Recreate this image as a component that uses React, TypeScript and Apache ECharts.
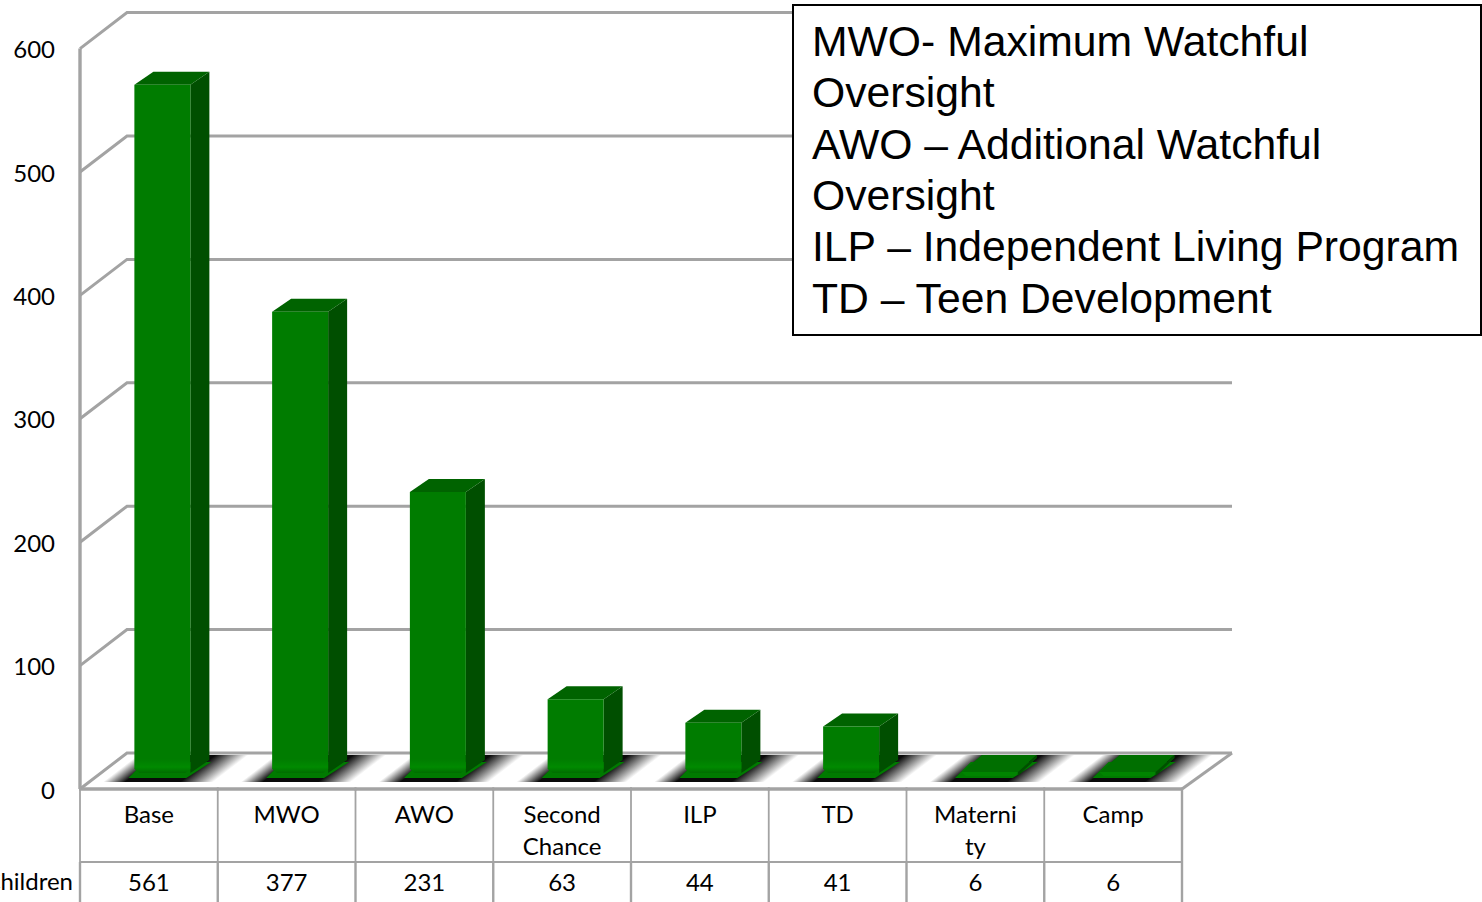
import React, { useEffect, useRef } from "react";
import * as echarts from "echarts";

const categories = ["Base", "MWO", "AWO", "Second\nChance", "ILP", "TD", "Materni\nty", "Camp"];
const children = [561, 377, 231, 63, 44, 41, 6, 6];
const tickValues = [0, 100, 200, 300, 400, 500, 600];
const rowLabel = "Children";
const noteLines = [
  "MWO- Maximum Watchful",
  "Oversight",
  "AWO – Additional Watchful",
  "Oversight",
  "ILP – Independent Living Program",
  "TD – Teen Development",
];

const FONT = "Lato, 'Open Sans', sans-serif";
const GRID_LINE = "#a3a3a3";
const DEPTH_X = 47;
const DEPTH_Y = 36;

function frameItem(params: any, api: any) {
  const cs = params.coordSys;
  const t = api.value(1);
  const [, y] = api.coord([0, t]);
  const left = cs.x;
  const right = cs.x + cs.width;
  const kids: any[] = [
    {
      type: "polyline",
      shape: { points: [[left, y], [left + DEPTH_X, y - DEPTH_Y], [right + DEPTH_X + 3, y - DEPTH_Y]] },
      style: { stroke: GRID_LINE, lineWidth: 3, fill: "none" },
    },
  ];
  if (t === 0) {
    kids.push({
      type: "polyline",
      shape: { points: [[right, y], [right + DEPTH_X + 3, y - DEPTH_Y]] },
      style: { stroke: GRID_LINE, lineWidth: 3, fill: "none" },
    });
  }
  return { type: "group", children: kids };
}

function floorItem(params: any, api: any) {
  const i = api.value(0);
  const cs = params.coordSys;
  const W = cs.width / categories.length;
  const x0 = cs.x + i * W;
  const y0 = api.coord([i, 0])[1];
  const slope = DEPTH_X / DEPTH_Y;
  const yLow = y0 - 7;
  const yHigh = y0 - 34;
  const nx = 1;
  const ny = slope;
  const s = W / (nx * nx + ny * ny);
  const grad = new echarts.graphic.LinearGradient(
    x0, y0, x0 + nx * s, y0 + ny * s,
    [
      { offset: 0, color: "#ffffff" },
      { offset: 0.1, color: "#ffffff" },
      { offset: 0.26, color: "#0a0a0a" },
      { offset: 0.66, color: "#0a0a0a" },
      { offset: 0.9, color: "#ffffff" },
      { offset: 1, color: "#ffffff" },
    ],
    true,
  );
  return {
    type: "polygon",
    shape: {
      points: [
        [x0 + (y0 - yLow) * slope, yLow],
        [x0 + W + (y0 - yLow) * slope, yLow],
        [x0 + W + (y0 - yHigh) * slope, yHigh],
        [x0 + (y0 - yHigh) * slope, yHigh],
      ],
    },
    style: { fill: grad },
  };
}

function barItem(params: any, api: any) {
  const i = api.value(0);
  const v = api.value(1);
  const [cx, yTop0] = api.coord([i, v]);
  const yBase0 = api.coord([i, 0])[1];
  const l = cx - 14.5;
  const r = cx + 41.5;
  const top = yTop0 - 12;
  const bottom = yBase0 - 16;
  const dX = 19;
  const dY = 13;
  const kids: any[] = [
    {
      type: "polygon",
      shape: { points: [[l - 6, yBase0 - 11], [r - 4, yBase0 - 11], [r + dX + 2, yBase0 - 27], [l + 10, yBase0 - 27]] },
      style: { fill: "#007a00" },
    },
  ];
  if (v > 10) {
    kids.push(
      {
        type: "polygon",
        shape: { points: [[r, top], [r + dX, top - dY], [r + dX, bottom - dY], [r, bottom]] },
        style: { fill: "#004f00" },
      },
      {
        type: "polygon",
        shape: { points: [[l, top], [l + dX, top - dY], [r + dX, top - dY], [r, top]] },
        style: { fill: "#006300" },
      },
      {
        type: "polygon",
        shape: { points: [[l, top], [r, top], [r, bottom - 4], [r - 5, bottom], [l + 5, bottom], [l, bottom - 4]] },
        style: {
          fill: new echarts.graphic.LinearGradient(0, top, 0, bottom, [
            { offset: 0, color: "#007c00" },
            { offset: Math.max(0, 1 - 14 / (bottom - top)), color: "#007c00" },
            { offset: Math.max(0, 1 - 6 / (bottom - top)), color: "#008a00" },
            { offset: 1, color: "#006d00" },
          ], true),
        },
      },
    );
  } else {
    const lt = l + 1;
    const rt = r + 1;
    kids.push(
      {
        type: "polygon",
        shape: { points: [[lt, yBase0 - 17], [lt + 20, yBase0 - 34], [rt + 19, yBase0 - 34], [rt, yBase0 - 17]] },
        style: { fill: "#006f00" },
      },
      {
        type: "polygon",
        shape: { points: [[lt, yBase0 - 17], [rt, yBase0 - 17], [rt - 2, yBase0 - 13], [lt + 4, yBase0 - 13]] },
        style: { fill: "#008400" },
      },
      {
        type: "polygon",
        shape: { points: [[rt, yBase0 - 17], [rt + 19, yBase0 - 34], [rt + 19, yBase0 - 31], [rt, yBase0 - 13]] },
        style: { fill: "#004f00" },
      },
    );
  }
  return { type: "group", children: kids };
}

function tableItem(params: any, api: any) {
  const i = api.value(0);
  const v = api.value(1);
  const cs = params.coordSys;
  const W = cs.width / categories.length;
  const [cx, y0] = api.coord([i, 0]);
  const x0 = cs.x + i * W;
  const yRow = y0 + 73;
  const yEnd = y0 + 113;
  const line = (x1: number, y1: number, x2: number, y2: number, lw: number) => ({
    type: "line",
    shape: { x1, y1, x2, y2 },
    style: { stroke: GRID_LINE, lineWidth: lw },
  });
  const kids: any[] = [
    line(x0, y0, x0, yRow, 1.8),
    line(x0, yRow, x0, yEnd, 2.4),
    line(x0, yRow, x0 + W, yRow, 2),
    line(x0 - 1, y0, x0 + W + 1, y0, 3.4),
    {
      type: "text",
      style: { x: cx, y: y0 + 92, text: String(v), fill: "#000", font: `24px ${FONT}`, align: "center", verticalAlign: "middle" },
    },
  ];
  if (i === categories.length - 1) {
    kids.push(line(x0 + W, y0, x0 + W, yEnd, 2.4));
  }
  if (i === 0) {
    kids.push({
      type: "text",
      style: { x: x0 - 7, y: y0 + 91, text: rowLabel, fill: "#000", font: `24px ${FONT}`, align: "right", verticalAlign: "middle" },
    });
  }
  return { type: "group", children: kids };
}

export default function App() {
  const ref = useRef<HTMLDivElement>(null);
  useEffect(() => {
    if (!ref.current) return;
    const chart = echarts.init(ref.current, undefined, { renderer: "svg" });
    const barData = children.map((v, i) => [i, v]);
    chart.setOption({
      animation: false,
      backgroundColor: "#ffffff",
      grid: { left: 80, top: 48.6, width: 1102, height: 740.4 },
      xAxis: {
        type: "category",
        data: categories,
        axisLine: { show: false },
        axisTick: { show: false },
        axisLabel: { color: "#000", fontFamily: FONT, fontSize: 24, lineHeight: 32, margin: 8, interval: 0, verticalAlign: "top" },
      },
      yAxis: {
        type: "value",
        min: 0,
        max: 600,
        interval: 100,
        axisLine: { show: false },
        axisTick: { show: false },
        splitLine: { show: false },
        axisLabel: { color: "#000", fontFamily: FONT, fontSize: 24, margin: 25 },
      },
      series: [
        { type: "custom", name: "floor", z: 1, silent: true, clip: false, renderItem: floorItem, data: categories.map((_, i) => [i, 0]), encode: { x: 0, y: 1 } },
        { type: "custom", name: "frame", z: 2, silent: true, clip: false, renderItem: frameItem, data: tickValues.map((t) => [0, t]), encode: { x: 0, y: 1 } },
        { type: "custom", name: "Children", z: 3, silent: true, clip: false, renderItem: barItem, data: barData, encode: { x: 0, y: 1 } },
        { type: "custom", name: "table", z: 4, silent: true, clip: false, renderItem: tableItem, data: barData, encode: { x: 0, y: 1 } },
      ],
      graphic: [
        { type: "line", z: 20, shape: { x1: 80, y1: 48.6, x2: 80, y2: 789 }, style: { stroke: GRID_LINE, lineWidth: 3.4 } },
        { type: "rect", z: 30, shape: { x: 793, y: 5, width: 688, height: 330 }, style: { fill: "#fff", stroke: "#000", lineWidth: 2 } },
        ...noteLines.map((line, i) => ({
          type: "text",
          z: 31,
          x: 812,
          y: 41 + i * 51.3,
          style: { text: line, fill: "#000", font: "42.7px 'Liberation Sans', Arial, sans-serif", align: "left", verticalAlign: "middle" },
        })),
      ],
    });
    return () => chart.dispose();
  }, []);
  return <div ref={ref} style={{ position: "absolute", left: 0, top: 0, width: 1482, height: 902, overflow: "hidden" }} />;
}
